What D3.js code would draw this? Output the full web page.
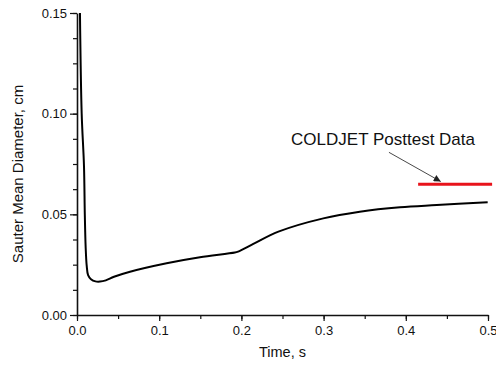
<!DOCTYPE html>
<html>
<head>
<meta charset="utf-8">
<script src="https://cdn.jsdelivr.net/npm/d3@7"></script>
<style>
  body { margin: 0; background: #fff; }
  text { font-family: "Liberation Sans", Arial, sans-serif; fill: #111; }
</style>
</head>
<body>
<div id="chart"></div>
<script>
// simulated Sauter mean diameter vs time
var time = [0.0036, 0.0057, 0.0085, 0.0095, 0.0105, 0.0118, 0.0135, 0.017, 0.0225, 0.028, 0.035, 0.045, 0.0645, 0.109, 0.1496, 0.192, 0.196, 0.2145, 0.245, 0.2996, 0.344, 0.393, 0.4376, 0.4996];
var diam = [0.15, 0.10, 0.074, 0.05, 0.034, 0.0245, 0.0198, 0.0178, 0.0167, 0.0166, 0.0172, 0.019, 0.0215, 0.0257, 0.0287, 0.031, 0.0315, 0.0353, 0.0414, 0.048, 0.0513, 0.0535, 0.0546, 0.056];

// posttest measurement
var testTime = [0.415, 0.505];
var testDiam = 0.065;
var testLabel = 'COLDJET Posttest Data';

var xTicks = [0.0, 0.1, 0.2, 0.3, 0.4, 0.5];
var yTicks = [0.00, 0.05, 0.10, 0.15];

var W = 496, H = 365;
var margin = { left: 77, right: 8, top: 13, bottom: 50 };

var svg = d3.select('#chart')
    .append('svg')
    .attr('width', W)
    .attr('height', H);

var x = d3.scaleLinear()
    .domain([0, 0.5])
    .range([margin.left, W - margin.right]);
var y = d3.scaleLinear()
    .domain([0, 0.15])
    .range([H - margin.bottom, margin.top]);

var minorX = d3.range(0, 0.5001, 0.05);
var minorY = d3.range(0, 0.1501, 0.0125);

// minor ticks
svg.append('g')
    .attr('transform', `translate(0,${y(0)})`)
    .call(d3.axisBottom(x).tickValues(minorX).tickSize(4).tickFormat(''))
    .call((g) => g.select('.domain').remove());
svg.append('g')
    .attr('transform', `translate(${x(0)},0)`)
    .call(d3.axisLeft(y).tickValues(minorY).tickSize(4).tickFormat(''))
    .call((g) => g.select('.domain').remove());

// major axes
svg.append('g')
    .attr('transform', `translate(0,${y(0)})`)
    .call(d3.axisBottom(x).tickValues(xTicks).tickSize(6).tickSizeOuter(0).tickPadding(5).tickFormat(d3.format('.1f')));
svg.append('g')
    .attr('transform', `translate(${x(0)},0)`)
    .call(d3.axisLeft(y).tickValues(yTicks).tickSize(7).tickSizeOuter(0).tickPadding(3).tickFormat(d3.format('.2f')));

svg.selectAll('.domain').attr('stroke', '#111').attr('stroke-width', 1.6);
svg.selectAll('.tick line').attr('stroke', '#111').attr('stroke-width', 1.2);
svg.selectAll('.tick text').style('font-size', '13px').attr('fill', '#111');

// axis titles
svg.append('text')
    .attr('x', (x(0) + x(0.5)) / 2)
    .attr('y', 357)
    .attr('text-anchor', 'middle')
    .style('font-size', '14.5px')
    .text('Time, s');
svg.append('text')
    .attr('transform', `translate(23,${(y(0) + y(0.15)) / 2 + 10}) rotate(-90)`)
    .attr('text-anchor', 'middle')
    .style('font-size', '15px')
    .text('Sauter Mean Diameter, cm');

// simulation curve
var pts = time.map((t, i) => ({ t: t, d: diam[i] }));
var line = d3.line()
    .x((d) => x(d.t))
    .y((d) => y(d.d))
    .curve(d3.curveCatmullRom.alpha(0.5));
svg.append('path')
    .datum(pts)
    .attr('fill', 'none')
    .attr('stroke', '#000')
    .attr('stroke-width', 2)
    .attr('stroke-linejoin', 'round')
    .attr('d', line);

// posttest data
svg.append('line')
    .attr('x1', x(testTime[0]))
    .attr('x2', x(testTime[1]))
    .attr('y1', y(testDiam))
    .attr('y2', y(testDiam))
    .attr('stroke', '#e8131b')
    .attr('stroke-width', 3);

svg.append('defs').append('marker')
    .attr('id', 'arrow')
    .attr('viewBox', '0 0 10 10')
    .attr('refX', 10)
    .attr('refY', 5)
    .attr('markerWidth', 9)
    .attr('markerHeight', 7)
    .attr('markerUnits', 'userSpaceOnUse')
    .attr('orient', 'auto')
    .append('path')
    .attr('d', 'M0,0 L10,5 L0,10 Z')
    .attr('fill', '#222');

svg.append('line')
    .attr('x1', x(0.3795))
    .attr('y1', y(0.0808))
    .attr('x2', x(0.4425))
    .attr('y2', y(0.0663))
    .attr('stroke', '#333')
    .attr('stroke-width', 0.9)
    .attr('marker-end', 'url(#arrow)');

svg.append('text')
    .attr('x', 475)
    .attr('y', 145)
    .attr('text-anchor', 'end')
    .style('font-size', '17px')
    .text(testLabel);
</script>
</body>
</html>
